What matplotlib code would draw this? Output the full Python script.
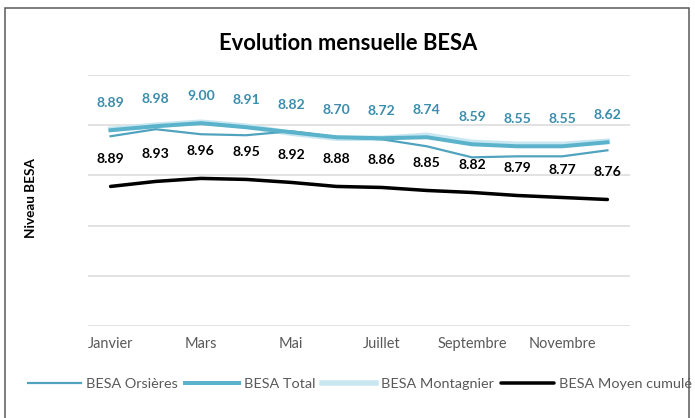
import matplotlib.pyplot as plt
from matplotlib.patches import Rectangle

months = ["Janvier", "Février", "Mars", "Avril", "Mai", "Juin", "Juillet",
          "Août", "Septembre", "Octobre", "Novembre", "Décembre"]

# line levels (axis has no tick labels)
orsieres = [9.39, 9.46, 9.41, 9.40, 9.44, 9.38, 9.36, 9.29, 9.18, 9.19, 9.19, 9.25]
total = [9.45, 9.49, 9.52, 9.48, 9.43, 9.38, 9.37, 9.38, 9.31, 9.29, 9.29, 9.33]
montagnier = [9.46, 9.50, 9.53, 9.49, 9.42, 9.37, 9.37, 9.40, 9.33, 9.31, 9.31, 9.34]
moyen = [8.89, 8.94, 8.97, 8.96, 8.93, 8.89, 8.88, 8.85, 8.83, 8.80, 8.78, 8.76]

# data labels as shown on the chart
total_labels = ["8.89", "8.98", "9.00", "8.91", "8.82", "8.70", "8.72", "8.74",
                "8.59", "8.55", "8.55", "8.62"]
moyen_labels = ["8.89", "8.93", "8.96", "8.95", "8.92", "8.88", "8.86", "8.85",
                "8.82", "8.79", "8.77", "8.76"]

plt.rcParams['font.family'] = ['Lato', 'DejaVu Sans']

W, H = 695, 418
fig = plt.figure(figsize=(W / 72, H / 72), dpi=72)
ax = fig.add_axes([88 / W, 1 - 326 / H, (630 - 88) / W, (326 - 75) / H])

x = list(range(len(months)))
ax.plot(x, orsieres, color="#4FA3BE", lw=2.2, label="BESA Orsières", zorder=3)
ax.plot(x, montagnier, color="#C9E7F1", lw=5.5, label="BESA Montagnier", zorder=2)
ax.plot(x, total, color="#5BB2CB", lw=4, label="BESA Total", zorder=4)
ax.plot(x, moyen, color="black", lw=3.5, label="BESA Moyen cumulé",
        solid_capstyle="round", zorder=5)

for i in x:
    ax.annotate(total_labels[i], (i, total[i]), xytext=(0, 27),
                textcoords="offset points", ha="center", va="center",
                color="#3A8DAC", fontsize=14, fontweight="bold")
    ax.annotate(moyen_labels[i], (i, moyen[i]), xytext=(0, 27),
                textcoords="offset points", ha="center", va="center",
                color="black", fontsize=14, fontweight="bold")

ax.set_xlim(-0.5, 11.5)
ax.set_ylim(7.5, 10.0)
ax.set_yticks([7.5, 8.0, 8.5, 9.0, 9.5, 10.0])
ax.set_yticklabels([])
ax.set_xticks(x[::2])
ax.set_xticklabels(months[::2], color="#595959", fontsize=14.5)
ax.tick_params(axis="both", length=0)
ax.tick_params(axis="x", pad=11)
ax.grid(axis="y", color="#D9D9D9", lw=1.5)
ax.set_axisbelow(True)
for s in ax.spines.values():
    s.set_visible(False)

fig.text(348 / W, 1 - 44 / H, "Evolution mensuelle BESA", ha="center",
         va="center", fontsize=22, fontweight="bold")
fig.text(31 / W, 1 - 198 / H, "Niveau BESA", rotation=90, ha="center",
         va="center", fontsize=13.5, fontweight="bold")

handles, labels = ax.get_legend_handles_labels()
order = [0, 2, 1, 3]
leg = fig.legend([handles[k] for k in order], [labels[k] for k in order],
                 loc="center left", bbox_to_anchor=(28 / W, 1 - 384 / H),
                 ncol=4, frameon=False, fontsize=14.4, handlelength=3.7,
                 handletextpad=0.35, columnspacing=0.5, borderaxespad=0,
                 borderpad=0)
for t in leg.get_texts():
    t.set_color("#595959")

fig.patches.append(Rectangle((5 / W, -0.1), 684 / W, 1.1 - 8 / H,
                             transform=fig.transFigure, fill=False,
                             edgecolor="#555555", lw=1.5))

fig.savefig("out.png", dpi=72)
